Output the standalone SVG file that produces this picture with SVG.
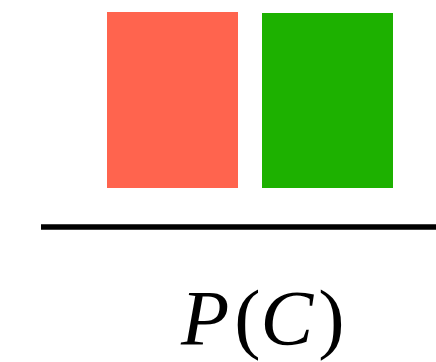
<svg xmlns="http://www.w3.org/2000/svg" width="436" height="362" viewBox="0 0 436 362">
<style>
.lbl{font-family:"Liberation Serif","Times New Roman",serif;font-size:79px;fill:#000}
.it{font-style:italic}
</style>
<rect width="436" height="362" fill="#fff"/>
<g id="red"><rect x="107" y="12" width="131" height="176" fill="#FF644E"/></g>
<g id="green"><rect x="262" y="13" width="131" height="175" fill="#1DB100"/></g>
<g id="connectors"><line x1="41" y1="227" x2="436" y2="227" stroke="#000" stroke-width="5.5"/></g>
<g id="label"><text class="lbl" x="181" y="344"><tspan class="it">P</tspan><tspan dx="5">(</tspan><tspan class="it">C</tspan><tspan dx="5">)</tspan></text></g>
</svg>
